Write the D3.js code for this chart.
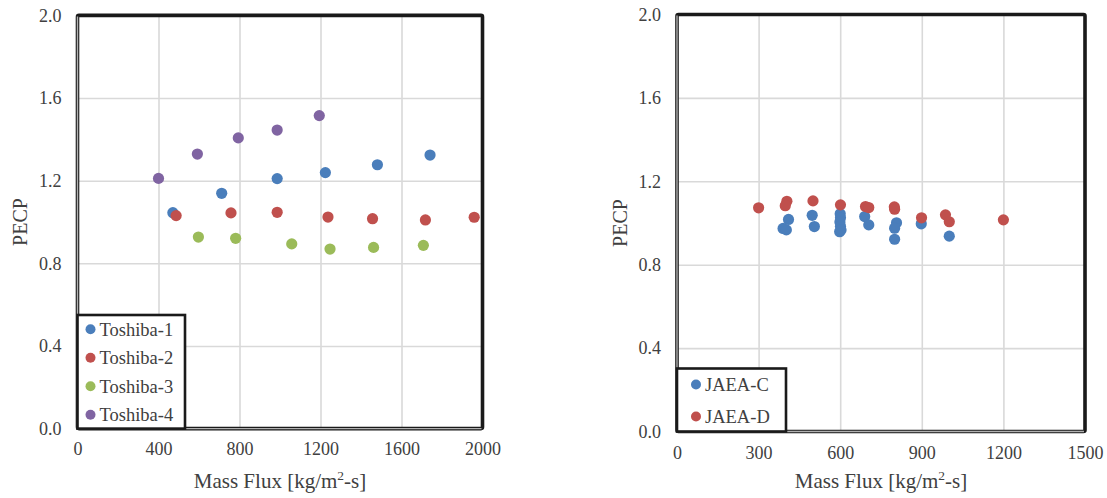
<!DOCTYPE html>
<html>
<head>
<meta charset="utf-8">
<script src="https://cdn.jsdelivr.net/npm/d3@7/dist/d3.min.js"></script>
<style>
  html, body { margin: 0; padding: 0; background: #fff; }
  svg { display: block; font-family: "Liberation Serif", "Times New Roman", serif; }
</style>
</head>
<body>
<svg id="chart" width="1107" height="498"></svg>
<script>
// ---- Data: PECP vs. mass flux ----
const toshiba1X = [471, 712, 986, 1224, 1481, 1741];
const toshiba1Y = [1.045, 1.139, 1.210, 1.239, 1.277, 1.324];
const toshiba2X = [487, 758, 986, 1237, 1457, 1718, 1959];
const toshiba2Y = [1.031, 1.044, 1.047, 1.024, 1.016, 1.010, 1.023];
const toshiba3X = [597, 781, 1058, 1247, 1462, 1708];
const toshiba3Y = [0.927, 0.921, 0.894, 0.869, 0.877, 0.887];
const toshiba4X = [400, 592, 794, 986, 1194];
const toshiba4Y = [1.211, 1.329, 1.407, 1.445, 1.515];

const jaeaCX = [390, 402, 410, 497, 505, 600, 601, 599, 601, 598, 603, 690, 705, 807, 800, 800, 898, 1001];
const jaeaCY = [0.974, 0.967, 1.017, 1.037, 0.983, 1.044, 1.025, 1.005, 0.985, 0.958, 0.966, 1.031, 0.991, 1.001, 0.975, 0.922, 0.996, 0.937];
const jaeaDX = [300, 404, 398, 500, 601, 693, 705, 799, 800, 899, 987, 1001, 1200];
const jaeaDY = [1.073, 1.104, 1.083, 1.106, 1.087, 1.079, 1.074, 1.077, 1.066, 1.025, 1.039, 1.006, 1.015];

const leftXTicks = [0, 400, 800, 1200, 1600, 2000];
const rightXTicks = [0, 300, 600, 900, 1200, 1500];
const yTicks = [0.0, 0.4, 0.8, 1.2, 1.6, 2.0];

const seriesColors = { blue: "#4a7ebb", red: "#c0504d", green: "#9bbb59", purple: "#8064a2" };

const leftSeries = [
  { name: "Toshiba-1", xs: toshiba1X, ys: toshiba1Y, color: seriesColors.blue },
  { name: "Toshiba-2", xs: toshiba2X, ys: toshiba2Y, color: seriesColors.red },
  { name: "Toshiba-3", xs: toshiba3X, ys: toshiba3Y, color: seriesColors.green },
  { name: "Toshiba-4", xs: toshiba4X, ys: toshiba4Y, color: seriesColors.purple }
];
const rightSeries = [
  { name: "JAEA-C", xs: jaeaCX, ys: jaeaCY, color: seriesColors.blue },
  { name: "JAEA-D", xs: jaeaDX, ys: jaeaDY, color: seriesColors.red }
];

const svg = d3.select("#chart");
const textColor = "#404040";

function drawPanel(cfg) {
  const x = d3.scaleLinear().domain([cfg.xTicks[0], cfg.xTicks[cfg.xTicks.length - 1]]).range([cfg.left, cfg.right]);
  const y = d3.scaleLinear().domain([0, 2]).range([cfg.bottom, cfg.top]);
  const g = svg.append("g");

  // gridlines
  g.append("g")
    .attr("transform", `translate(0,${cfg.bottom})`)
    .call(d3.axisBottom(x).tickValues(cfg.xTicks).tickSize(-(cfg.bottom - cfg.top)).tickFormat(""))
    .call(s => s.select(".domain").remove())
    .call(s => s.selectAll("line").attr("stroke", "#d9d9d9").attr("stroke-width", 1.6));
  g.append("g")
    .attr("transform", `translate(${cfg.left},0)`)
    .call(d3.axisLeft(y).tickValues(yTicks).tickSize(-(cfg.right - cfg.left)).tickFormat(""))
    .call(s => s.select(".domain").remove())
    .call(s => s.selectAll("line").attr("stroke", "#d9d9d9").attr("stroke-width", 1.6));

  // tick labels
  g.append("g")
    .attr("transform", `translate(0,${cfg.bottom})`)
    .call(d3.axisBottom(x).tickValues(cfg.xTicks).tickSize(0).tickPadding(cfg.xPad).tickFormat(d3.format("d")))
    .call(s => s.select(".domain").remove())
    .call(s => s.selectAll("text").attr("fill", textColor).attr("font-size", 18)
      .attr("font-family", "Liberation Serif, Times New Roman, serif"));
  g.append("g")
    .attr("transform", `translate(${cfg.left},0)`)
    .call(d3.axisLeft(y).tickValues(yTicks).tickSize(0).tickPadding(16).tickFormat(d3.format(".1f")))
    .call(s => s.select(".domain").remove())
    .call(s => s.selectAll("text").attr("fill", textColor).attr("font-size", 18)
      .attr("font-family", "Liberation Serif, Times New Roman, serif"));

  // plot frame: heavy border with lighter axis lines on left and bottom
  g.append("rect")
    .attr("x", cfg.left).attr("y", cfg.top)
    .attr("width", cfg.right - cfg.left).attr("height", cfg.bottom - cfg.top)
    .attr("fill", "none").attr("stroke", "#1a1a1a").attr("stroke-width", 3.6)
    .attr("rx", 1.5);
  g.append("path")
    .attr("d", `M${cfg.left},${cfg.top + 1}V${cfg.bottom}H${cfg.right - 1}`)
    .attr("fill", "none").attr("stroke", "#b0b0b0").attr("stroke-width", 1.4);

  // points
  cfg.series.forEach(s => {
    g.append("g").selectAll("circle")
      .data(s.xs.map((v, i) => [v, s.ys[i]]))
      .join("circle")
      .attr("cx", d => x(d[0]))
      .attr("cy", d => y(d[1]))
      .attr("r", 5.6)
      .attr("fill", s.color);
  });

  // legend
  const lg = g.append("g");
  lg.append("rect")
    .attr("x", cfg.left).attr("y", cfg.legendTop)
    .attr("width", cfg.legendWidth).attr("height", cfg.bottom - cfg.legendTop)
    .attr("fill", "#fff").attr("stroke", "#1a1a1a").attr("stroke-width", 2.6);
  cfg.series.forEach((s, i) => {
    const cy = cfg.legendFirst + i * cfg.legendStep;
    lg.append("circle").attr("cx", cfg.left + cfg.legendMarker).attr("cy", cy).attr("r", 5).attr("fill", s.color);
    lg.append("text").attr("x", cfg.left + cfg.legendMarker + 9).attr("y", cy)
      .attr("dy", "0.35em").attr("font-size", 18.5).attr("fill", textColor).text(s.name);
  });

  // axis titles
  const xt = g.append("text")
    .attr("x", (cfg.left + cfg.right) / 2).attr("y", cfg.xTitleY)
    .attr("text-anchor", "middle").attr("font-size", 21).attr("fill", textColor);
  xt.append("tspan").text("Mass Flux [kg/m");
  xt.append("tspan").attr("font-size", 13.5).attr("dy", -8).text("2");
  xt.append("tspan").attr("dy", 8).text("-s]");

  g.append("text")
    .attr("transform", `translate(${cfg.yTitleX},${(cfg.top + cfg.bottom) / 2}) rotate(-90)`)
    .attr("text-anchor", "middle").attr("font-size", 20).attr("fill", textColor).text("PECP");
}

drawPanel({
  left: 77.5, right: 482.5, top: 15.4, bottom: 428.6,
  xTicks: leftXTicks, series: leftSeries, xPad: 14,
  legendTop: 315, legendWidth: 107.5, legendFirst: 329.3, legendStep: 28.5, legendMarker: 13,
  xTitleY: 488, yTitleX: 27
});
drawPanel({
  left: 677, right: 1085, top: 14.5, bottom: 431.5,
  xTicks: rightXTicks, series: rightSeries, xPad: 15,
  legendTop: 368.5, legendWidth: 109, legendFirst: 384.5, legendStep: 32, legendMarker: 19,
  xTitleY: 488, yTitleX: 627
});
</script>
</body>
</html>
